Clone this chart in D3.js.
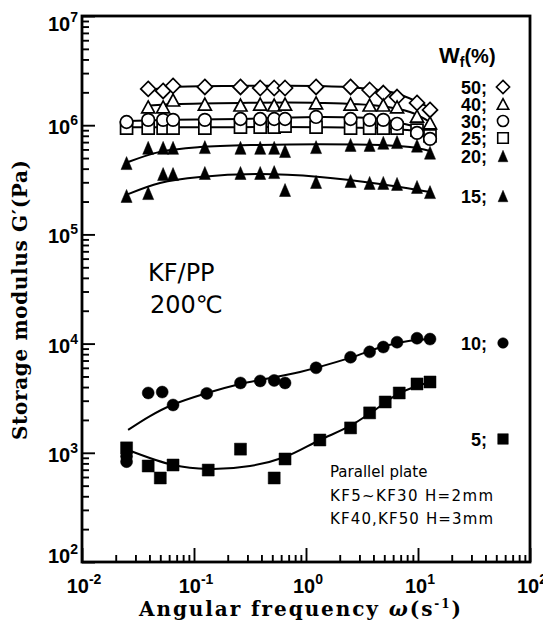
<!DOCTYPE html>
<html>
<head>
<meta charset="utf-8">
<script src="https://cdn.jsdelivr.net/npm/d3@7"></script>
<style>
  body { margin: 0; background: #fff; }
  svg { display: block; }
</style>
</head>
<body>
<div id="chart"></div>
<script>
// angular frequency grid (s^-1) used by the KF15..KF50 runs
const freq = [0.025, 0.039, 0.053, 0.065, 0.125, 0.26, 0.39, 0.52, 0.65, 1.23, 2.5, 3.7, 4.9, 6.5, 9.8, 12.8];
const freqNoFirst = freq.slice(1);

// storage modulus G' (Pa)
const g50 = [2.15e6, 2.06e6, 2.29e6, 2.24e6, 2.24e6, 2.19e6, 2.19e6, 2.19e6, 2.24e6, 2.24e6, 2.10e6, 1.97e6, 1.81e6, 1.60e6, 1.38e6];
const g40 = [1.47e6, 1.47e6, 1.70e6, 1.56e6, 1.53e6, 1.56e6, 1.53e6, 1.56e6, 1.60e6, 1.56e6, 1.53e6, 1.53e6, 1.47e6, 1.21e6, 1.05e6];
const g30 = [1.07e6, 1.12e6, 1.12e6, 1.12e6, 1.12e6, 1.14e6, 1.14e6, 1.14e6, 1.14e6, 1.19e6, 1.14e6, 1.12e6, 1.12e6, 1.03e6, 8.5e5, 7.5e5];
const g25 = [9.4e5, 9.4e5, 9.4e5, 9.4e5, 9.4e5, 9.6e5, 9.6e5, 9.6e5, 9.8e5, 9.6e5, 9.4e5, 9.4e5, 9.4e5, 9.4e5, 9.0e5, 8.0e5];
const g20 = [4.5e5, 6.2e5, 6.2e5, 6.2e5, 6.3e5, 6.2e5, 6.2e5, 6.2e5, 5.8e5, 6.3e5, 6.6e5, 6.6e5, 6.9e5, 7.0e5, 6.5e5, 5.6e5];
const g15 = [2.25e5, 2.39e5, 3.57e5, 3.57e5, 3.65e5, 3.65e5, 3.65e5, 3.72e5, 2.55e5, 3.02e5, 3.08e5, 2.96e5, 2.96e5, 2.90e5, 2.72e5, 2.44e5];

const freq10 = [0.025, 0.025, 0.039, 0.052, 0.065, 0.13, 0.26, 0.39, 0.52, 0.65, 1.23, 2.5, 3.7, 4.9, 6.5, 9.8, 12.8];
const g10 = [930, 830, 3530, 3600, 2740, 3500, 4360, 4550, 4600, 4360, 6000, 7500, 8400, 9300, 10300, 11200, 11000];

const freq5 = [0.025, 0.039, 0.050, 0.065, 0.134, 0.26, 0.52, 0.65, 1.33, 2.5, 3.7, 5.1, 6.8, 9.8, 12.8];
const g5 = [1110, 757, 588, 773, 695, 1080, 588, 878, 1310, 1690, 2320, 2920, 3530, 4270, 4450];

// smooth guide curves drawn through each set [freq, G']
const fit50 = [[0.0388, 2.10e6], [0.0677, 2.24e6], [0.258, 2.29e6], [1.33, 2.29e6], [3.03, 2.19e6], [6.24, 1.97e6], [12.8, 1.44e6]];
const fit40 = [[0.0365, 1.50e6], [0.0677, 1.56e6], [0.258, 1.60e6], [1.33, 1.60e6], [4.58, 1.50e6], [8.48, 1.32e6], [12.8, 1.07e6]];
const fit30 = [[0.0252, 1.09e6], [0.0677, 1.12e6], [0.258, 1.14e6], [1.33, 1.19e6], [4.58, 1.14e6], [8.48, 1.00e6], [12.8, 8.5e5]];
const fit25 = [[0.0252, 9.6e5], [0.0677, 9.6e5], [0.258, 9.6e5], [1.33, 9.6e5], [4.58, 9.4e5], [8.48, 9.0e5], [12.8, 8.7e5]];
const fit20 = [[0.0258, 4.6e5], [0.0497, 5.7e5], [0.113, 6.3e5], [0.388, 6.6e5], [1.33, 6.7e5], [4.58, 6.6e5], [8.48, 6.3e5], [12.8, 5.8e5]];
const fit15 = [[0.0258, 2.34e5], [0.0497, 2.96e5], [0.113, 3.36e5], [0.388, 3.57e5], [1.33, 3.36e5], [4.58, 2.90e5], [12.8, 2.44e5]];
const fit10 = [[0.0258, 1620], [0.0405, 2170], [0.0636, 2740], [0.131, 3530], [0.258, 4270], [0.884, 5500], [2.47, 7400], [5.07, 9500], [8.48, 10600], [12.8, 11000]];
const fit5 = [[0.0258, 1060], [0.0649, 773], [0.134, 711], [0.316, 757], [0.649, 916], [1.33, 1310], [2.47, 1760], [4.13, 2470], [6.90, 3530], [12.8, 4450]];

const legendLabels = ['50', '40', '30', '25', '20', '15', '10', '5'];
const xDecades = [1e-2, 1e-1, 1e0, 1e1, 1e2];
const yDecades = [1e2, 1e3, 1e4, 1e5, 1e6, 1e7];

const W = 543, H = 629;
const svg = d3.select('#chart').append('svg').attr('width', W).attr('height', H);

const x = d3.scaleLog().domain([1e-2, 1e2]).range([82, 530]);
const y = d3.scaleLog().domain([1e2, 1e7]).range([562, 16]);

const isDecade = v => Math.abs(Math.log10(v) - Math.round(Math.log10(v))) < 1e-9;
const sansBold = "'Liberation Sans', Arial, sans-serif";
const serif = "'DejaVu Serif', 'Liberation Serif', serif";
const plain = "'DejaVu Sans', sans-serif";

// ---- ticks (inward) ----
function styleTicks(g) {
    g.select('.domain').remove();
    g.selectAll('line').attr('stroke', '#000').attr('stroke-width', 1.9);
}
svg.append('g').attr('transform', `translate(0,${y(1e2)})`)
    .call(d3.axisBottom(x).tickValues(x.ticks().filter(v => !isDecade(v))).tickSize(-7).tickFormat(''))
    .call(styleTicks);
svg.append('g').attr('transform', `translate(0,${y(1e2)})`)
    .call(d3.axisBottom(x).tickValues(xDecades).tickSize(-14).tickFormat(''))
    .call(styleTicks);
svg.append('g').attr('transform', `translate(${x(1e-2)},0)`)
    .call(d3.axisLeft(y).tickValues(y.ticks().filter(v => !isDecade(v))).tickSize(-7).tickFormat(''))
    .call(styleTicks);
svg.append('g').attr('transform', `translate(${x(1e-2)},0)`)
    .call(d3.axisLeft(y).tickValues(yDecades).tickSize(-13).tickFormat(''))
    .call(styleTicks);

// frame
svg.append('rect')
    .attr('x', x(1e-2)).attr('y', y(1e7))
    .attr('width', x(1e2) - x(1e-2)).attr('height', y(1e2) - y(1e7))
    .attr('fill', 'none').attr('stroke', '#000').attr('stroke-width', 2.8);

// tick labels 10^n
xDecades.forEach(v => {
    const e = Math.round(Math.log10(v));
    const t = svg.append('text')
        .attr('x', x(v) + 2).attr('y', 593)
        .attr('text-anchor', 'middle')
        .attr('font-family', sansBold).attr('font-weight', 'bold').attr('font-size', 20);
    t.append('tspan').text('10');
    t.append('tspan').attr('dy', -9).attr('font-size', 14).text(e < 0 ? '-' + (-e) : e);
});
yDecades.forEach((v, i) => {
    const e = Math.round(Math.log10(v));
    const off = i === 0 ? 1 : (i === yDecades.length - 1 ? 15 : 9);
    const t = svg.append('text')
        .attr('x', 78).attr('y', y(v) + off)
        .attr('text-anchor', 'end')
        .attr('font-family', sansBold).attr('font-weight', 'bold').attr('font-size', 20);
    t.append('tspan').text('10');
    t.append('tspan').attr('dy', -9).attr('font-size', 14).text(e);
});

// axis titles
const xt = svg.append('text')
    .attr('x', 300).attr('y', 616)
    .attr('text-anchor', 'middle')
    .attr('textLength', 322).attr('lengthAdjust', 'spacing')
    .attr('font-family', serif).attr('font-weight', 'bold').attr('font-size', 20);
xt.append('tspan').text('Angular frequency  ');
xt.append('tspan').attr('font-style', 'italic').text('ω');
xt.append('tspan').text('(s');
xt.append('tspan').attr('dy', -8).attr('font-size', 12).text('-1');
xt.append('tspan').attr('dy', 8).text(')');

svg.append('text')
    .attr('transform', 'translate(27,300) rotate(-90)')
    .attr('text-anchor', 'middle')
    .attr('textLength', 280).attr('lengthAdjust', 'spacing')
    .attr('font-family', serif).attr('font-weight', 'bold').attr('font-size', 20)
    .text('Storage modulus G\u2032(Pa)');

// ---- markers ----
function markerPath(type, s) {
    switch (type) {
        case 'diamond': return `M0,${-s}L${s},0L0,${s}L${-s},0Z`;
        case 'triangle': return `M0,${-s * 0.92}L${s},${s * 0.92}L${-s},${s * 0.92}Z`;
        case 'ftriangle': return `M0,${-s}L${s * 0.85},${s}L${-s * 0.85},${s}Z`;
        case 'circle': return d3.symbol().type(d3.symbolCircle).size(Math.PI * s * s)();
        case 'square': return d3.symbol().type(d3.symbolSquare).size(4 * s * s)();
    }
}

const series = [
    { label: '50', f: freqNoFirst, g: g50, fit: fit50, type: 'diamond', size: 7.5, filled: false },
    { label: '40', f: freqNoFirst, g: g40, fit: fit40, type: 'triangle', size: 6.5, filled: false },
    { label: '25', f: freq, g: g25, fit: fit25, type: 'square', size: 6, filled: false },
    { label: '30', f: freq, g: g30, fit: fit30, type: 'circle', size: 6.3, filled: false },
    { label: '20', f: freq, g: g20, fit: fit20, type: 'ftriangle', size: 6.5, filled: true },
    { label: '15', f: freq, g: g15, fit: fit15, type: 'ftriangle', size: 6.5, filled: true },
    { label: '10', f: freq10, g: g10, fit: fit10, type: 'circle', size: 6, filled: true },
    { label: '5', f: freq5, g: g5, fit: fit5, type: 'square', size: 6, filled: true }
];

const line = d3.line()
    .x(d => x(d[0]))
    .y(d => y(d[1]))
    .curve(d3.curveCatmullRom.alpha(0.5));

const curves = svg.append('g');
series.forEach(s => {
    curves.append('path')
        .attr('d', line(s.fit))
        .attr('fill', 'none')
        .attr('stroke', '#000')
        .attr('stroke-width', 2);
});

const marks = svg.append('g');
series.forEach(s => {
    marks.append('g').selectAll('path')
        .data(s.f.map((f, i) => [f, s.g[i]]))
        .join('path')
        .attr('transform', d => `translate(${x(d[0])},${y(d[1])})`)
        .attr('d', markerPath(s.type, s.size))
        .attr('fill', s.filled ? '#000' : '#fff')
        .attr('stroke', '#000')
        .attr('stroke-width', s.filled ? 0.5 : 1.7);
});

// ---- legend ----
const lg = svg.append('g');
const wf = lg.append('text')
    .attr('x', 439).attr('y', 63)
    .attr('font-family', sansBold).attr('font-weight', 'bold').attr('font-size', 20);
wf.append('tspan').attr('font-size', 22).text('W');
wf.append('tspan').attr('dy', 4).attr('font-size', 14).text('f');
wf.append('tspan').attr('dy', -4).text('(%)');

const rowY = { '50': 87, '40': 104, '30': 121, '25': 138, '20': 156, '15': 196, '10': 343, '5': 439 };
const bySeries = {};
series.forEach(s => { bySeries[s.label] = s; });
legendLabels.forEach(lbl => {
    const s = bySeries[lbl];
    const yy = rowY[lbl];
    lg.append('text')
        .attr('x', 487).attr('y', yy + 6.5)
        .attr('text-anchor', 'end')
        .attr('font-family', sansBold).attr('font-weight', 'bold').attr('font-size', 18)
        .text(lbl + ';');
    lg.append('path')
        .attr('transform', `translate(503,${yy})`)
        .attr('d', markerPath(s.type, s.size * 0.88))
        .attr('fill', s.filled ? '#000' : '#fff')
        .attr('stroke', '#000')
        .attr('stroke-width', s.filled ? 0.5 : 1.6);
});

// ---- annotations ----
svg.append('text').attr('x', 148).attr('y', 281)
    .attr('font-family', plain).attr('font-size', 24).text('KF/PP');
svg.append('text').attr('x', 150).attr('y', 313)
    .attr('font-family', plain).attr('font-size', 24).text('200\u2103');

const notes = ['Parallel plate', 'KF5~KF30 H=2mm', 'KF40,KF50 H=3mm'];
notes.forEach((n, i) => {
    const t = svg.append('text')
        .attr('x', 330).attr('y', 477 + i * 23.5)
        .attr('font-family', plain).attr('font-size', 15)
        .text(n);
    if (i > 0) t.attr('textLength', 163).attr('lengthAdjust', 'spacing');
});
</script>
</body>
</html>
